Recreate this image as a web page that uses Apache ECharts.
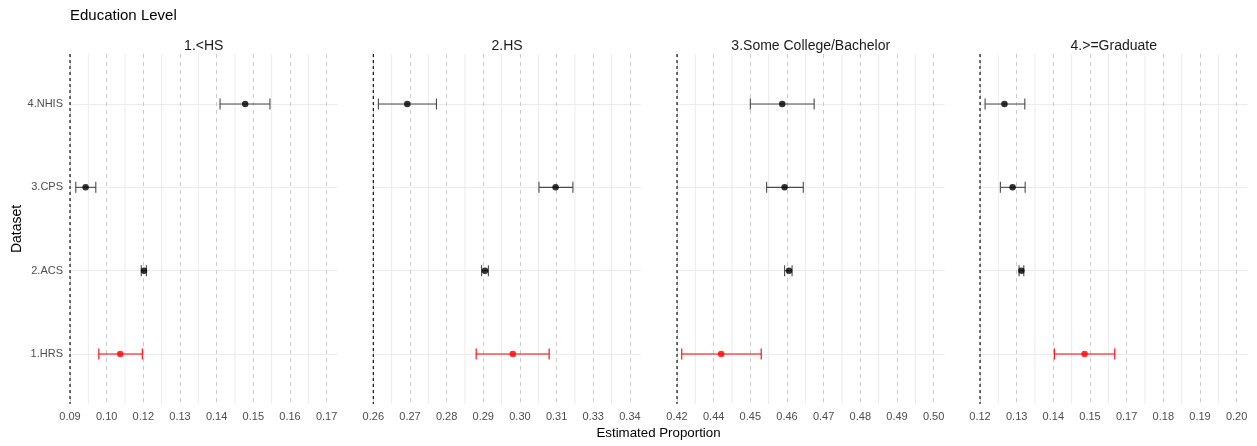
<!DOCTYPE html>
<html><head><meta charset="utf-8">
<script src="https://cdn.jsdelivr.net/npm/echarts@6/dist/echarts.min.js"></script>
<style>html,body{margin:0;padding:0;background:#fff}#c{width:1257px;height:446px}</style>
</head><body><div id="c"></div>
<script>
// ---- data ----
const datasets = ['1.HRS', '2.ACS', '3.CPS', '4.NHIS'];
const panelTitles = ['1.<HS', '2.HS', '3.Some College/Bachelor', '4.>=Graduate'];
const highlight = [true, false, false, false]; // HRS drawn in red

// estimates and confidence bounds, ordered as datasets
const estLessHS = [0.1086, 0.1156, 0.0984, 0.1454];
const lowLessHS = [0.1023, 0.1148, 0.0955, 0.1380];
const highLessHS = [0.1151, 0.1163, 0.1014, 0.1527];

const estHS = [0.3016, 0.2934, 0.3142, 0.2705];
const lowHS = [0.2908, 0.2924, 0.3093, 0.2620];
const highHS = [0.3123, 0.2944, 0.3193, 0.2791];

const estCollege = [0.4377, 0.4577, 0.4564, 0.4557];
const lowCollege = [0.4261, 0.4564, 0.4511, 0.4463];
const highCollege = [0.4495, 0.4586, 0.4619, 0.4651];

const estGrad = [0.1530, 0.1344, 0.1318, 0.1294];
const lowGrad = [0.1441, 0.1337, 0.1282, 0.1237];
const highGrad = [0.1619, 0.1351, 0.1355, 0.1354];

// x scale per panel: first break (also the dashed reference line), break step, visible span
const axisStart = [0.0938, 0.2605, 0.4247, 0.1222];
const tickStep = 0.0108;
const axisSpan = 0.0788;

// tick labels per panel (as printed, rounded)
const ticksLessHS = ['0.09', '0.10', '0.12', '0.13', '0.14', '0.15', '0.16', '0.17'];
const ticksHS = ['0.26', '0.27', '0.28', '0.29', '0.30', '0.31', '0.33', '0.34'];
const ticksCollege = ['0.42', '0.44', '0.45', '0.46', '0.47', '0.48', '0.49', '0.50'];
const ticksGrad = ['0.12', '0.13', '0.14', '0.15', '0.17', '0.18', '0.19', '0.20'];

// ---- build ----
const est = [estLessHS, estHS, estCollege, estGrad];
const low = [lowLessHS, lowHS, lowCollege, lowGrad];
const high = [highLessHS, highHS, highCollege, highGrad];
const tickLabels = [ticksLessHS, ticksHS, ticksCollege, ticksGrad];

const FONT = 'Liberation Sans, Arial, sans-serif';
const RED = '#ff0000', BLACK = '#000000', BAR_BLACK = '#4a4a4a';
const gridLefts = [70, 373.3, 677, 980];
const gridWidth = 267.5;

const grids = [], xAxes = [], yAxes = [], series = [], titles = [];

titles.push({ text: 'Education Level', left: 70, top: 8, padding: 0,
  textStyle: { fontFamily: FONT, fontSize: 15, fontWeight: 'normal', color: '#000' } });

function vlineSeries(p, values, style, z) {
  return {
    type: 'custom', xAxisIndex: p, yAxisIndex: p, silent: true, z: z,
    data: values.map(v => [v, 2.5]),
    renderItem: (params, api) => {
      const x = api.coord([api.value(0), api.value(1)])[0];
      const cs = params.coordSys;
      return { type: 'line', shape: { x1: x, y1: cs.y, x2: x, y2: cs.y + cs.height }, style: style };
    }
  };
}

for (let p = 0; p < 4; p++) {
  grids.push({ left: gridLefts[p], width: gridWidth, top: 54, height: 350 });
  const start = axisStart[p];
  const labels = tickLabels[p];
  xAxes.push({
    type: 'value', gridIndex: p, min: start, max: start + axisSpan, interval: tickStep,
    axisLine: { show: false }, axisTick: { show: false },
    axisLabel: { color: '#4d4d4d', fontFamily: FONT, fontSize: 11, margin: 7,
      showMaxLabel: false,
      formatter: v => { const i = Math.round((v - start) / tickStep); return labels[i] !== undefined ? labels[i] : ''; } },
    splitLine: { show: true, showMaxLine: false, lineStyle: { color: '#cccccc', width: 1, type: [4, 4] } }
  });
  yAxes.push({
    type: 'value', gridIndex: p, min: 0.4, max: 4.6,
    axisLine: { show: false },
    axisTick: { show: false, customValues: [1, 2, 3, 4] },
    axisLabel: { show: p === 0, customValues: [1, 2, 3, 4], color: '#4d4d4d', fontFamily: FONT, fontSize: 11, margin: 7,
      formatter: v => datasets[Math.round(v) - 1] || '' },
    splitLine: { show: true, lineStyle: { color: '#ebebeb', width: 1 } },
    name: p === 0 ? 'Dataset' : '', nameLocation: 'middle', nameRotate: 90, nameGap: 33,
    nameTextStyle: { fontFamily: FONT, fontSize: 14, color: '#000' }
  });

  // minor vertical grid lines halfway between labelled breaks
  const minor = labels.slice(1).map((_, k) => start + (k + 0.5) * tickStep);
  series.push(vlineSeries(p, minor, { stroke: '#ebebeb', lineWidth: 1 }, 1));
  // dashed reference line at the first break
  series.push(vlineSeries(p, [start], { stroke: '#000', lineWidth: 1.1, lineDash: [3, 3] }, 2));

  const errData = [], ptData = [];
  for (let i = 0; i < datasets.length; i++) {
    errData.push({ value: [low[p][i], high[p][i], i + 1], itemStyle: { color: highlight[i] ? RED : BAR_BLACK } });
    ptData.push({ value: [est[p][i], i + 1], itemStyle: { color: highlight[i] ? RED : BLACK } });
  }
  series.push({
    type: 'custom', xAxisIndex: p, yAxisIndex: p, data: errData, z: 3, silent: true,
    renderItem: (params, api) => {
      const y = api.value(2);
      const a = api.coord([api.value(0), y]);
      const b = api.coord([api.value(1), y]);
      const c = api.visual('color');
      const h = 5.5;
      const st = { stroke: c, lineWidth: 1.1 };
      return { type: 'group', children: [
        { type: 'line', shape: { x1: a[0], y1: a[1], x2: b[0], y2: b[1] }, style: st },
        { type: 'line', shape: { x1: a[0], y1: a[1] - h, x2: a[0], y2: a[1] + h }, style: st },
        { type: 'line', shape: { x1: b[0], y1: b[1] - h, x2: b[0], y2: b[1] + h }, style: st }
      ] };
    }
  });
  series.push({
    type: 'scatter', xAxisIndex: p, yAxisIndex: p, data: ptData, symbolSize: 6.5, z: 4, silent: true
  });
  titles.push({ text: panelTitles[p], left: gridLefts[p] + gridWidth / 2, textAlign: 'center', top: 39, padding: 0,
    textStyle: { fontFamily: FONT, fontSize: 14, fontWeight: 'normal', color: '#1a1a1a' } });
}
titles.push({ text: 'Estimated Proportion', left: 658.5, textAlign: 'center', top: 427, padding: 0,
  textStyle: { fontFamily: FONT, fontSize: 13.3, fontWeight: 'normal', color: '#000' } });

const chart = echarts.init(document.getElementById('c'), null, { renderer: 'canvas' });
chart.setOption({
  animation: false, backgroundColor: '#fff',
  title: titles, grid: grids, xAxis: xAxes, yAxis: yAxes, series: series
});
</script></body></html>
